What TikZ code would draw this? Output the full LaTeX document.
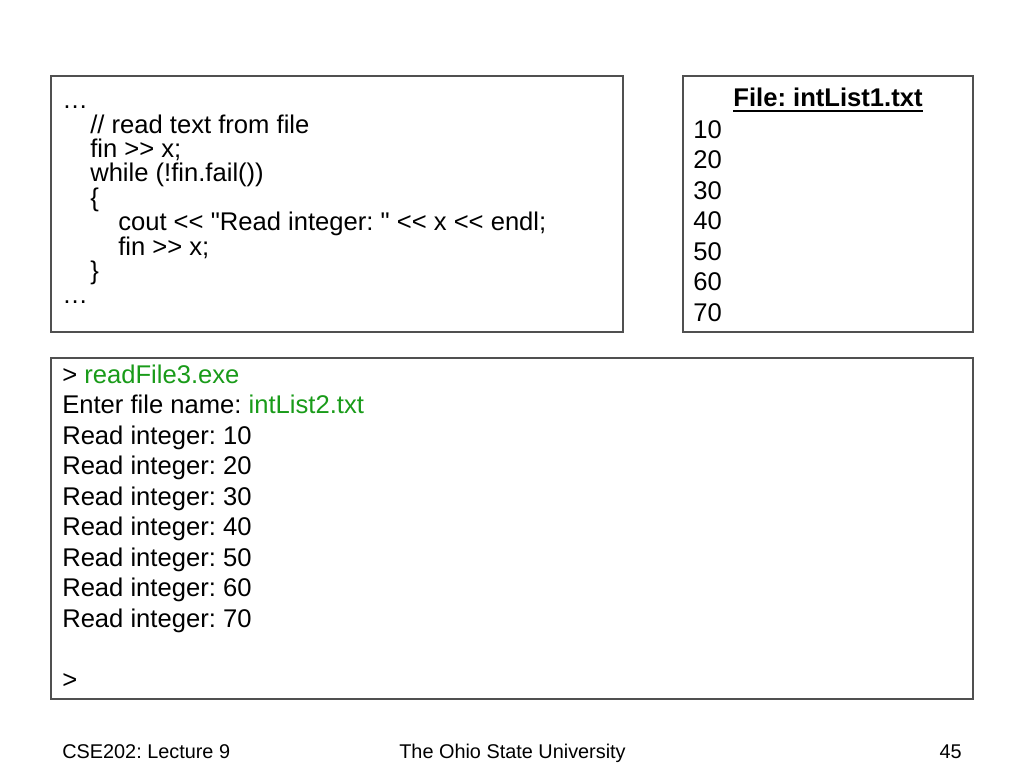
\documentclass[tikz,border=0pt]{standalone}
\usepackage{fontspec}
\setmainfont{Liberation Sans}[Ligatures=TeXOff]
\usetikzlibrary{calc}
\frenchspacing
\definecolor{termgreen}{RGB}{25,155,25}
\definecolor{boxgray}{RGB}{80,80,80}
\tikzset{
  boxline/.style={draw=boxgray, line width=0.9pt},
  txt/.style={anchor=base west, inner sep=0pt, font=\frenchspacing\fontsize{19.2pt}{22pt}\selectfont},
  foot/.style={inner sep=0pt, font=\frenchspacing\fontsize{14.9pt}{18pt}\selectfont},
}
\begin{document}
\begin{tikzpicture}[x=0.75pt, y=-0.75pt]
\useasboundingbox[fill=white] (0,0) rectangle (1024,768);

% boxes
\draw[boxline] (51,76) rectangle (623,332);
\draw[boxline] (683,76) rectangle (973,332);
\draw[boxline] (51,358) rectangle (973,699);

% code box
\node[txt] (c1) at (62,108.7) {…};
\node[txt] (c2) at (90,133.1) {// read text from file};
\node[txt] (c3) at (90,157.5) {fin >> x;};
\node[txt] (c4) at (90,181.9) {while (!fin.fail())};
\node[txt] (c5) at (90,206.3) {\{};
\node[txt] (c6) at (118,230.7) {cout << "Read integer: " << x << endl;};
\node[txt] (c7) at (118,255.1) {fin >> x;};
\node[txt] (c8) at (90,279.5) {\}};
\node[txt] (c9) at (62,303.9) {…};

% file box
\node[anchor=base, inner sep=0pt, font=\frenchspacing\fontsize{19.2pt}{22pt}\selectfont\bfseries] (title) at (828,106.5) {File: intList1.txt};
\draw[line width=1.5pt] ($(title.base west)+(0,4.5)$) -- ($(title.base east)+(0,4.5)$);
\node[txt] (n1) at (693,138) {10};
\node[txt] (n2) at (693,168.5) {20};
\node[txt] (n3) at (693,199) {30};
\node[txt] (n4) at (693,229.5) {40};
\node[txt] (n5) at (693,260) {50};
\node[txt] (n6) at (693,290.5) {60};
\node[txt] (n7) at (693,321) {70};

% terminal box
\node[txt] (t1) at (62,383.3) {> \textcolor{termgreen}{readFile3.exe}};
\node[txt] (t2) at (62,413.8) {Enter file name: \textcolor{termgreen}{intList2.txt}};
\node[txt] (t3) at (62,444.3) {Read integer: 10};
\node[txt] (t4) at (62,474.8) {Read integer: 20};
\node[txt] (t5) at (62,505.3) {Read integer: 30};
\node[txt] (t6) at (62,535.8) {Read integer: 40};
\node[txt] (t7) at (62,566.3) {Read integer: 50};
\node[txt] (t8) at (62,596.8) {Read integer: 60};
\node[txt] (t9) at (62,627.3) {Read integer: 70};
\node[txt] (t10) at (62,688.3) {>};

% footer
\node[foot, anchor=base west] (f1) at (62,758.3) {CSE202: Lecture 9};
\node[foot, anchor=base] (f2) at (512.5,758.3) {The Ohio State University};
\node[foot, anchor=base east] (f3) at (962,758.3) {45};
\end{tikzpicture}
\end{document}
